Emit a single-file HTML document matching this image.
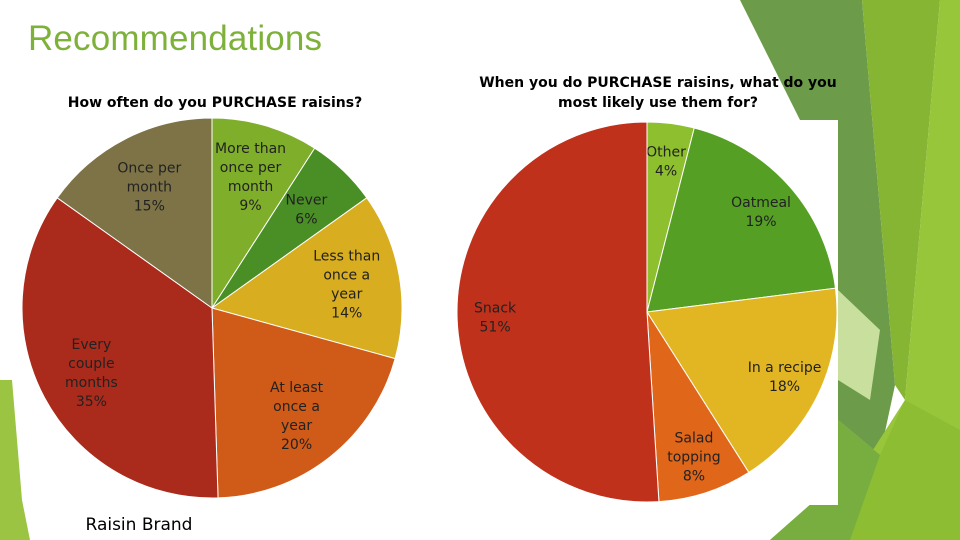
<!DOCTYPE html>
<html><head><meta charset="utf-8"><style>
body{margin:0;width:960px;height:540px;overflow:hidden;background:#fff;font-family:"DejaVu Sans","Liberation Sans",sans-serif}
svg{position:absolute;left:0;top:0}
</style></head><body>
<svg width="960" height="540">
<g>
<polygon points="740,0 862,0 895,385 880,455 838,420 800,120" fill="#6c9b49"/>
<polygon points="862,0 940,0 905,400 895,385" fill="#86b534"/>
<polygon points="940,0 960,0 960,540 815,540 905,400" fill="#98c63b"/>
<polygon points="838,290 880,330 870,400 838,380" fill="#c8df9e"/>
<polygon points="838,420 880,455 905,400 960,430 960,540 770,540 838,480" fill="#8cbd32"/>
<polygon points="838,420 880,455 850,540 770,540 838,480" fill="#77ae3f"/>
<polygon points="0,380 12,380 22,500 30,540 0,540" fill="#9ac441"/>
</g>
<text x="28" y="50" font-size="35" fill="#7eb13a" font-family="Liberation Sans, sans-serif" textLength="294">Recommendations</text>
<text x="215" y="107" font-size="14" font-weight="bold" text-anchor="middle">How often do you PURCHASE raisins?</text>
<text x="658" y="87" font-size="14" font-weight="bold" text-anchor="middle">When you do PURCHASE  raisins, what do you</text>
<text x="658" y="107" font-size="14" font-weight="bold" text-anchor="middle">most likely use them for?</text>
<rect x="640" y="120" width="198" height="385" fill="#fff"/>
<g id="left"></g>
<g id="right"></g>
<text x="139" y="530" font-size="17" text-anchor="middle">Raisin Brand</text>
</svg>
<script>
const leftCats=["More than once per month","Never","Less than once a year","At least once a year","Every couple months","Once per month"];
const leftVals=[9,6,14,20,35,15];
const rightCats=["Other","Oatmeal","In a recipe","Salad topping","Snack"];
const rightVals=[4,19,18,8,51];
const leftColors=["#7fae2a","#4a8f25","#d8ad1f","#d05a17","#aa2a1b","#7d7347"];
const rightColors=["#8dbf2e","#55a024","#e2b622","#e0661a","#c0311b"];
const leftLabels=[["More than","once per","month","9%"],["Never","6%"],["Less than","once a","year","14%"],["At least","once a","year","20%"],["Every","couple","months","35%"],["Once per","month","15%"]];
const rightLabels=[["Other","4%"],["Oatmeal","19%"],["In a recipe","18%"],["Salad","topping","8%"],["Snack","51%"]];
const ns="http://www.w3.org/2000/svg";
function pie(gid,vals,colors,labels,cx,cy,r,lr){
 const g=document.getElementById(gid);
 const tot=vals.reduce((a,b)=>a+b,0);
 let a0=0;
 vals.forEach((v,i)=>{
  const a1=a0+v/tot*2*Math.PI;
  const x0=cx+r*Math.sin(a0),y0=cy-r*Math.cos(a0),x1=cx+r*Math.sin(a1),y1=cy-r*Math.cos(a1);
  const p=document.createElementNS(ns,"path");
  p.setAttribute("d",`M${cx},${cy}L${x0},${y0}A${r},${r} 0 ${a1-a0>Math.PI?1:0} 1 ${x1},${y1}Z`);
  p.setAttribute("fill",colors[i]);p.setAttribute("stroke","#fff");p.setAttribute("stroke-width","1");
  
  
  g.appendChild(p);
  const m=(a0+a1)/2, lx=cx+r*lr*Math.sin(m), ly=cy-r*lr*Math.cos(m);
  const t=document.createElementNS(ns,"text");
  t.setAttribute("text-anchor","middle");t.setAttribute("font-size","14");t.setAttribute("fill","#222");
  
  
  const ls=labels[i];
  ls.forEach((s,k)=>{const sp=document.createElementNS(ns,"tspan");sp.setAttribute("x",lx);sp.setAttribute("y",ly+(k-(ls.length-1)/2)*19+5);sp.textContent=s;t.appendChild(sp);});
  g.appendChild(t);
  a0=a1;
 });
}
pie("left",leftVals,leftColors,leftLabels,212,308,190,0.72);
pie("right",rightVals,rightColors,rightLabels,647,312,190,0.8);
</script>
</body></html>
